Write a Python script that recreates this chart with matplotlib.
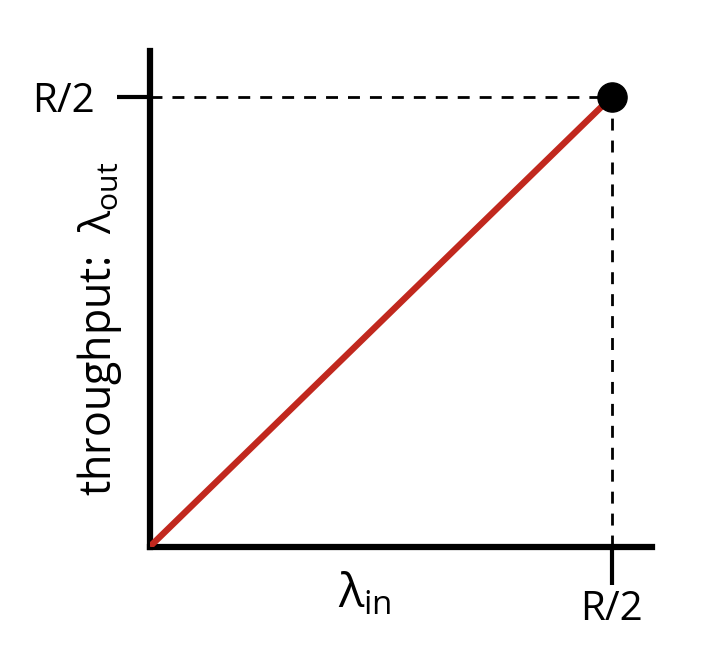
import numpy as np
import matplotlib
matplotlib.use("Agg")
import matplotlib.pyplot as plt

plt.rcParams['font.family'] = ['Open Sans', 'DejaVu Sans']
plt.rcParams['mathtext.fontset'] = 'custom'
plt.rcParams['mathtext.rm'] = 'Open Sans'
plt.rcParams['mathtext.it'] = 'Open Sans'

# data: throughput equals input rate up to R/2
lam_in = [0.0, 1.0]
lam_out = [0.0, 1.0]
max_point = (1.0, 1.0)
tick_labels = ['R/2']

fig = plt.figure(figsize=(7.12, 6.58), dpi=100)
ax = fig.add_axes([150 / 712, (658 - 546.5) / 658, 502 / 712, 496 / 658])

ax.plot(lam_in, lam_out, color='#c1281e', lw=4.6, solid_capstyle='butt', zorder=3)
ax.plot([0, max_point[0]], [max_point[1], max_point[1]], color='black', lw=2,
        ls=(0, (4.3, 3.6)))
ax.plot([max_point[0], max_point[0]], [0, max_point[1]], color='black', lw=2,
        ls=(0, (4.3, 3.6)))
ax.plot(*max_point, 'o', color='black', ms=21, zorder=4, clip_on=False)

ax.set_xlim(0, 502 / 462)
ax.set_ylim(0, 496 / 450)

for s in ['top', 'right']:
    ax.spines[s].set_visible(False)
for s in ['left', 'bottom']:
    ax.spines[s].set_linewidth(4.5)

ax.set_xticks([max_point[0]])
ax.set_xticklabels(tick_labels, fontsize=29)
ax.set_yticks([max_point[1]])
ax.set_yticklabels(tick_labels, fontsize=29)
ax.tick_params(axis='x', length=27, width=3, pad=4, direction='out')
ax.tick_params(axis='y', length=24, width=3, pad=16, direction='out')

ax.set_xlabel(r'$\lambda_{\mathrm{in}}$', fontsize=34)
ax.xaxis.set_label_coords(215 / 502, -24 / 496)
ax.set_ylabel(r'throughput:  $\lambda_{\mathrm{out}}$', fontsize=31)
ax.yaxis.set_label_coords(-26 / 502, 0.4385)

fig.savefig('out.png', dpi=100)
